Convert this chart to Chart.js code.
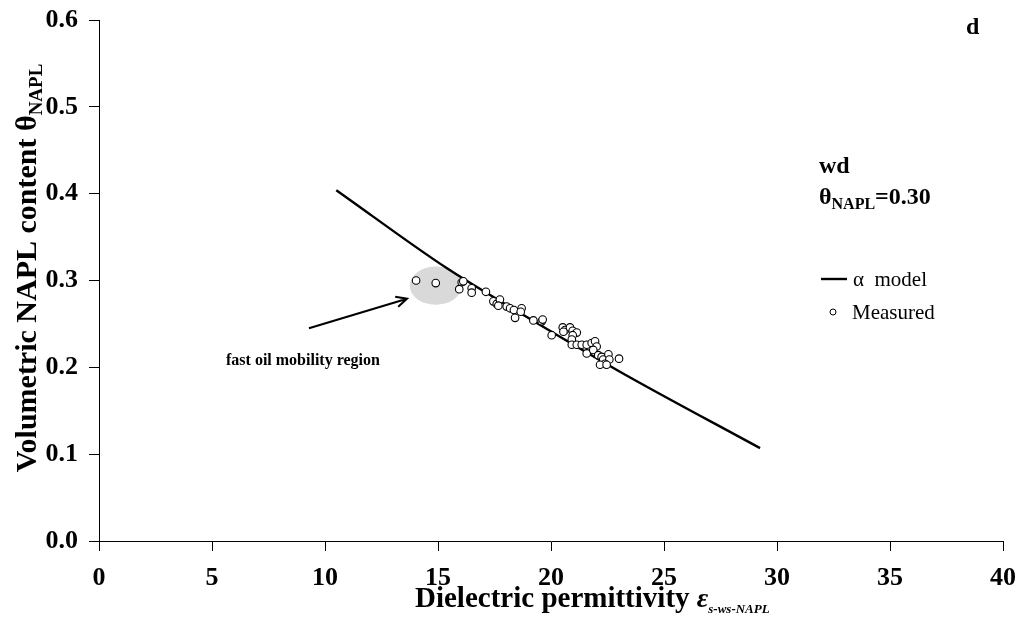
<!DOCTYPE html>
<html>
<head>
<meta charset="utf-8">
<script src="https://cdn.jsdelivr.net/npm/chart.js@4.4.0/dist/chart.umd.min.js"></script>
<style>
  html, body { margin: 0; padding: 0; background: #fff; }
  #wrap { width: 1019px; height: 619px; }
</style>
</head>
<body>
<div id="wrap"><canvas id="chart" width="1019" height="619"></canvas></div>
<script>
// alpha model curve
const modelX = [10.5, 15.4, 18.8, 23.05, 29.25]
const modelY = [0.404, 0.314, 0.260, 0.195, 0.107]

// measured points
const measuredX = [14.03, 14.90, 16.05, 16.12, 15.94, 16.49, 16.49, 17.12, 17.45, 17.60,
  17.74, 17.67, 18.04, 18.19, 18.36, 18.41, 18.70, 18.66, 19.22, 19.59,
  19.63, 20.03, 20.52, 20.62, 20.84, 20.96, 21.14, 20.96, 20.55, 20.92,
  20.92, 21.14, 21.36, 21.58, 21.80, 21.95, 22.02, 21.58, 21.87, 22.09,
  22.24, 22.31, 22.54, 22.58, 22.39, 22.17, 22.46, 23.01]
const measuredY = [0.300, 0.297, 0.298, 0.299, 0.290, 0.291, 0.286, 0.287, 0.276, 0.273,
  0.278, 0.271, 0.270, 0.268, 0.266, 0.257, 0.268, 0.264, 0.254, 0.253,
  0.255, 0.237, 0.246, 0.243, 0.246, 0.242, 0.240, 0.237, 0.241, 0.232,
  0.226, 0.226, 0.226, 0.226, 0.228, 0.230, 0.224, 0.216, 0.220, 0.214,
  0.212, 0.209, 0.215, 0.209, 0.204, 0.203, 0.203, 0.210]

const xMin = 0, xMax = 40, xStep = 5
const yMin = 0, yMax = 0.6, yStep = 0.1

const serif = '"Liberation Serif", "Times New Roman", serif'

// draws pieces of text one after another, used for subscripts
function drawRuns(ctx, runs, x, y) {
  let cx = x
  for (const r of runs) {
    ctx.font = r.font
    ctx.fillText(r.t, cx, y + (r.dy || 0))
    cx += ctx.measureText(r.t).width
  }
  return cx - x
}
function runsWidth(ctx, runs) {
  let w = 0
  for (const r of runs) { ctx.font = r.font; w += ctx.measureText(r.t).width }
  return w
}

// keep the plot area where the picture has it, tick labels may overhang
function noOverhang(scale) {
  scale.paddingLeft = 0
  scale.paddingRight = 0
  scale.paddingTop = 0
  scale.paddingBottom = 0
}

const decor = {
  id: 'decor',
  beforeDatasetsDraw(chart) {
    const { ctx, scales: { x, y } } = chart
    // grey ellipse round the fast mobility points
    const cx = x.getPixelForValue(14.9), cy = y.getPixelForValue(0.294)
    const rx = x.getPixelForValue(14.9 + 1.15) - cx
    const ry = cy - y.getPixelForValue(0.294 + 0.022)
    ctx.save()
    ctx.fillStyle = '#d9d9d9'
    ctx.beginPath()
    ctx.ellipse(cx, cy, rx, ry, 0, 0, Math.PI * 2)
    ctx.fill()
    ctx.restore()
  },
  afterDraw(chart) {
    const { ctx, scales: { x, y } } = chart
    ctx.save()
    ctx.fillStyle = '#000'
    ctx.strokeStyle = '#000'

    // arrow
    const x0 = x.getPixelForValue(9.29), y0 = y.getPixelForValue(0.245)
    const x1 = x.getPixelForValue(13.63), y1 = y.getPixelForValue(0.279)
    const ang = Math.atan2(y1 - y0, x1 - x0)
    ctx.lineWidth = 2
    ctx.beginPath()
    ctx.moveTo(x0, y0); ctx.lineTo(x1, y1)
    ctx.moveTo(x1 - 12 * Math.cos(ang - 0.45), y1 - 12 * Math.sin(ang - 0.45))
    ctx.lineTo(x1, y1)
    ctx.lineTo(x1 - 12 * Math.cos(ang + 0.45), y1 - 12 * Math.sin(ang + 0.45))
    ctx.stroke()

    ctx.textBaseline = 'alphabetic'
    ctx.textAlign = 'left'
    ctx.font = 'bold 16px ' + serif
    ctx.fillText('fast oil mobility region', 226, 365)

    // panel letter and case label
    ctx.font = 'bold 24px ' + serif
    ctx.fillText('d', 966, 34)
    ctx.fillText('wd', 819, 173)
    drawRuns(ctx, [
      { t: 'θ', font: 'bold 24px ' + serif },
      { t: 'NAPL', font: 'bold 16px ' + serif, dy: 5 },
      { t: '=0.30', font: 'bold 24px ' + serif }
    ], 819, 204)

    // legend
    const ds = chart.data.datasets
    ctx.lineWidth = ds[1].borderWidth
    ctx.beginPath(); ctx.moveTo(821, 279); ctx.lineTo(847, 279); ctx.stroke()
    ctx.font = '21px ' + serif
    ctx.textBaseline = 'middle'
    ctx.fillText('α  model', 853, 280)
    ctx.lineWidth = 1
    ctx.fillStyle = '#fff'
    ctx.beginPath(); ctx.arc(833, 312, 3, 0, Math.PI * 2); ctx.fill(); ctx.stroke()
    ctx.fillStyle = '#000'
    ctx.fillText('Measured', 852, 313)

    // axis titles
    ctx.textBaseline = 'alphabetic'
    const xRuns = [
      { t: 'Dielectric permittivity ', font: 'bold 29px ' + serif },
      { t: 'ε', font: 'italic bold 28px ' + serif },
      { t: 's-ws-NAPL', font: 'italic bold 13px ' + serif, dy: 6 }
    ]
    drawRuns(ctx, xRuns, 415, 607)

    const yRuns = [
      { t: 'Volumetric NAPL content θ', font: 'bold 30px ' + serif },
      { t: 'NAPL', font: 'bold 19px ' + serif, dy: 6 }
    ]
    const w = runsWidth(ctx, yRuns)
    ctx.translate(36, 268)
    ctx.rotate(-Math.PI / 2)
    drawRuns(ctx, yRuns, -w / 2, 0)
    ctx.restore()
  }
}

const tickFont = { family: serif, size: 26, weight: 'bold' }

new Chart(document.getElementById('chart'), {
  type: 'scatter',
  data: {
    datasets: [
      {
        label: 'Measured',
        data: measuredX.map((v, i) => ({ x: v, y: measuredY[i] })),
        pointRadius: 3.8,
        pointBackgroundColor: '#fff',
        pointBorderColor: '#000',
        pointBorderWidth: 1.1,
        showLine: false,
        order: 0
      },
      {
        label: 'α model',
        data: modelX.map((v, i) => ({ x: v, y: modelY[i] })),
        showLine: true,
        borderColor: '#000',
        borderWidth: 2.4,
        pointRadius: 0,
        cubicInterpolationMode: 'monotone',
        order: 1
      }
    ]
  },
  options: {
    responsive: false,
    animation: false,
    devicePixelRatio: 1,
    layout: { padding: { left: 0, top: 20, right: 16, bottom: 0 } },
    plugins: { legend: { display: false }, tooltip: { enabled: false } },
    scales: {
      x: {
        type: 'linear', min: xMin, max: xMax,
        ticks: { stepSize: xStep, color: '#000', font: tickFont, padding: 12, maxRotation: 0 },
        grid: { drawOnChartArea: false, drawTicks: true, tickLength: 10, color: '#000' },
        border: { display: true, color: '#000', width: 1 },
        afterFit(scale) { scale.height = 78; noOverhang(scale) }
      },
      y: {
        type: 'linear', min: yMin, max: yMax,
        ticks: { stepSize: yStep, color: '#000', font: tickFont, padding: 11,
          callback: v => v.toFixed(1) },
        grid: { drawOnChartArea: false, drawTicks: true, tickLength: 10, color: '#000' },
        border: { display: true, color: '#000', width: 1 },
        afterFit(scale) { scale.width = 99; noOverhang(scale) }
      }
    }
  },
  plugins: [decor]
})
</script>
</body>
</html>
